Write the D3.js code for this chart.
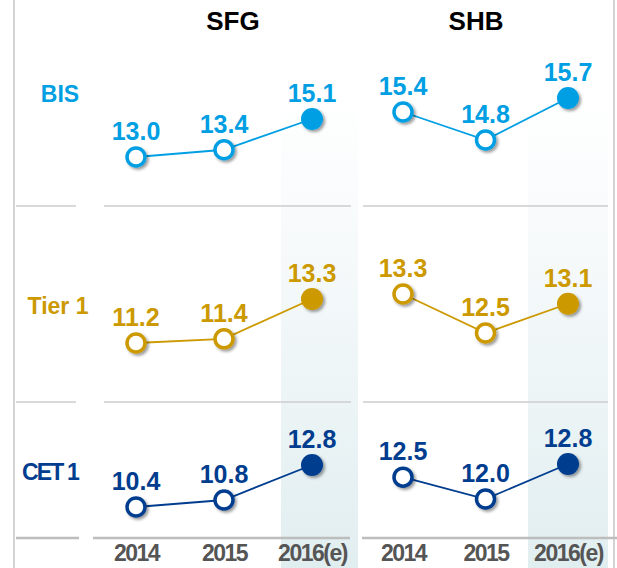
<!DOCTYPE html>
<html>
<head>
<meta charset="utf-8">
<script src="https://cdn.jsdelivr.net/npm/d3@7"></script>
<style>
  html, body { margin: 0; padding: 0; background: #fff; }
  svg { display: block; font-family: "Liberation Sans", Arial, sans-serif; }
</style>
</head>
<body>
<div id="chart"></div>
<script>
// Capital ratios (%), SFG vs SHB
var panels = ["SFG", "SHB"];
var years = ["2014", "2015", "2016(e)"];
var metrics = ["BIS", "Tier 1", "CET 1"];

var sfgBIS = [13.0, 13.4, 15.1];
var sfgTier1 = [11.2, 11.4, 13.3];
var sfgCET1 = [10.4, 10.8, 12.8];

var shbBIS = [15.4, 14.8, 15.7];
var shbTier1 = [13.3, 12.5, 13.1];
var shbCET1 = [12.5, 12.0, 12.8];

var width = 617, height = 568;
var colors = { "BIS": "#009fe3", "Tier 1": "#cc9900", "CET 1": "#003d8f" };

// layout
var panelX = [[136, 312], [403, 568]];          // first/last year position per panel
var titleX = [233, 476];
var labelPos = { "BIS": [60, 102], "Tier 1": [58, 314], "CET 1": [50, 480] };
// pixel range [min value, max value] for each panel / metric
var yRanges = [
    [[157, 119], [343, 299], [507, 465]],
    [[140, 98], [333, 294], [499, 464]]
];
var highlight = [[281, 358], [528, 608]];

var series = [
    [sfgBIS, sfgTier1, sfgCET1],
    [shbBIS, shbTier1, shbCET1]
];

var svg = d3.select("#chart").append("svg")
    .attr("width", width)
    .attr("height", height);

var defs = svg.append("defs");
var grad = defs.append("linearGradient")
    .attr("id", "colGrad")
    .attr("x1", 0).attr("y1", 0).attr("x2", 0).attr("y2", 1);
grad.append("stop").attr("offset", "0%").attr("stop-color", "#ffffff");
grad.append("stop").attr("offset", "30%").attr("stop-color", "#f7fafb");
grad.append("stop").attr("offset", "100%").attr("stop-color", "#e1eef0");

var shadow = defs.append("filter")
    .attr("id", "shadow")
    .attr("x", "-50%").attr("y", "-50%")
    .attr("width", "200%").attr("height", "200%");
shadow.append("feDropShadow")
    .attr("dx", 2).attr("dy", 2)
    .attr("stdDeviation", 1.6)
    .attr("flood-color", "#000")
    .attr("flood-opacity", 0.4);

// highlighted estimate columns
highlight.forEach(function(h) {
    svg.append("rect")
        .attr("x", h[0]).attr("y", 93)
        .attr("width", h[1] - h[0])
        .attr("height", height - 93)
        .attr("fill", "url(#colGrad)");
});

// frame lines
svg.append("line")
    .attr("x1", 14).attr("x2", 14).attr("y1", 0).attr("y2", height)
    .attr("stroke", "#d4d4d4").attr("stroke-width", 2);
svg.append("line")
    .attr("x1", 614).attr("x2", 614).attr("y1", 0).attr("y2", height)
    .attr("stroke", "#d4d4d4").attr("stroke-width", 2);

var sepSegments = [[16, 76], [104, 351], [363, 608]];
[206, 402].forEach(function(y) {
    sepSegments.forEach(function(s) {
        svg.append("line")
            .attr("x1", s[0]).attr("x2", s[1]).attr("y1", y).attr("y2", y)
            .attr("stroke", "#cccccc").attr("stroke-width", 1.5);
    });
});
[[16, 79], [93, 350], [362, 617]].forEach(function(s) {
    svg.append("line")
        .attr("x1", s[0]).attr("x2", s[1]).attr("y1", 538).attr("y2", 538)
        .attr("stroke", "#bdbdbd").attr("stroke-width", 2.5);
});

// row labels
metrics.forEach(function(m) {
    svg.append("text")
        .text(m)
        .attr("x", labelPos[m][0])
        .attr("y", labelPos[m][1])
        .attr("text-anchor", "middle")
        .attr("font-size", "23px")
        .attr("font-weight", "bold")
        .attr("letter-spacing", m == "CET 1" ? "-1.8px" : "0px")
        .attr("fill", colors[m]);
});

panels.forEach(function(p, pi) {
    var x = d3.scalePoint()
        .domain(years)
        .range(panelX[pi]);

    // panel title
    svg.append("text")
        .text(p)
        .attr("x", titleX[pi])
        .attr("y", 30)
        .attr("text-anchor", "middle")
        .attr("font-size", "26px")
        .attr("font-weight", "bold")
        .attr("fill", "#000");

    // year axis
    var axis = d3.axisBottom(x).tickSize(0).tickPadding(0);
    var ag = svg.append("g")
        .attr("transform", "translate(0,545)")
        .call(axis);
    ag.select(".domain").remove();
    ag.selectAll("text")
        .attr("font-family", "'Liberation Sans', Arial, sans-serif")
        .attr("font-size", "23px")
        .attr("font-weight", "bold")
        .attr("letter-spacing", "-1.5px")
        .attr("fill", "#555555");

    metrics.forEach(function(m, mi) {
        var vals = series[pi][mi];
        var y = d3.scaleLinear()
            .domain(d3.extent(vals))
            .range(yRanges[pi][mi]);
        var pts = vals.map(function(v, i) { return { year: years[i], value: v, est: i == years.length - 1 }; });
        var color = colors[m];

        var lineFunc = d3.line()
            .x(function(d) { return x(d.year); })
            .y(function(d) { return y(d.value); });

        svg.append("path")
            .attr("d", lineFunc(pts))
            .attr("fill", "none")
            .attr("stroke", color)
            .attr("stroke-width", 1.8);

        var g = svg.append("g");
        g.selectAll("circle")
            .data(pts)
            .enter().append("circle")
            .attr("cx", function(d) { return x(d.year); })
            .attr("cy", function(d) { return y(d.value); })
            .attr("r", function(d) { return d.est ? 11 : 9; })
            .attr("fill", function(d) { return d.est ? color : "#ffffff"; })
            .attr("stroke", color)
            .attr("stroke-width", function(d) { return d.est ? 0 : 3.5; })
            .attr("filter", "url(#shadow)");

        g.selectAll("text")
            .data(pts)
            .enter().append("text")
            .text(function(d) { return d.value.toFixed(1); })
            .attr("x", function(d) { return x(d.year); })
            .attr("y", function(d) { return y(d.value) - 17; })
            .attr("text-anchor", "middle")
            .attr("font-size", "25px")
            .attr("font-weight", "bold")
            .attr("fill", color);
    });
});
</script>
</body>
</html>
